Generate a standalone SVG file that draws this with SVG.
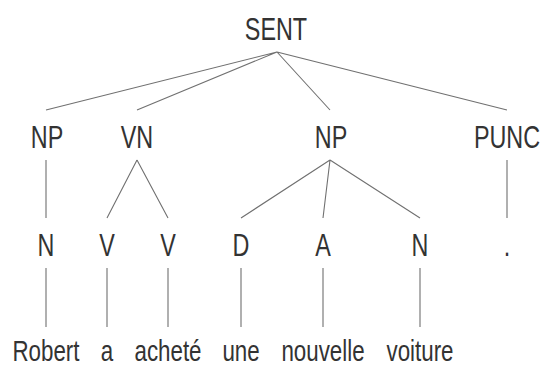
<svg xmlns="http://www.w3.org/2000/svg" width="540" height="367" viewBox="0 0 540 367">
<style>
.t{font-family:"Liberation Sans",Arial,sans-serif;font-size:32px;fill:#333;text-anchor:middle}
.w{font-family:"Liberation Sans",Arial,sans-serif;font-size:29px;fill:#333;text-anchor:middle}
.e{stroke:#707070;stroke-width:1.1;fill:none}
</style>
<rect width="540" height="367" fill="#fff"/>
<g id="connectors" class="e">
<path d="M277,52L46,110M277,52L137,110M277,52L330,110M277,52L507,110"/>
<path d="M46,160L46,218M137,160L107,218M137,160L168,218M330,160L241,218M330,160L323,218M330,160L420,218M507,160L507,218"/>
<path d="M46,268L46,327M107,268L107,327M168,268L168,327M241,268L241,327M323,268L323,327M420,268L420,327"/>
</g>
<g id="sent"><text class="t" transform="translate(276,40) scale(0.73,1)">SENT</text></g>
<g id="np1"><text class="t" transform="translate(47,148) scale(0.73,1)">NP</text></g>
<g id="vn"><text class="t" transform="translate(137,148) scale(0.73,1)">VN</text></g>
<g id="np2"><text class="t" transform="translate(331,148) scale(0.73,1)">NP</text></g>
<g id="punc"><text class="t" transform="translate(507,148) scale(0.73,1)">PUNC</text></g>
<g id="n1"><text class="t" transform="translate(46,256) scale(0.73,1)">N</text></g>
<g id="v1"><text class="t" transform="translate(107,256) scale(0.73,1)">V</text></g>
<g id="v2"><text class="t" transform="translate(168,256) scale(0.73,1)">V</text></g>
<g id="d"><text class="t" transform="translate(241,256) scale(0.73,1)">D</text></g>
<g id="a"><text class="t" transform="translate(323,256) scale(0.73,1)">A</text></g>
<g id="n2"><text class="t" transform="translate(420,256) scale(0.73,1)">N</text></g>
<g id="dot"><text class="t" transform="translate(507,256) scale(0.73,1)">.</text></g>
<g id="w1"><text class="w" transform="translate(46,360.5) scale(0.77,1)">Robert</text></g>
<g id="w2"><text class="w" transform="translate(107,360.5) scale(0.77,1)">a</text></g>
<g id="w3"><text class="w" transform="translate(168,360.5) scale(0.77,1)">acheté</text></g>
<g id="w4"><text class="w" transform="translate(241,360.5) scale(0.77,1)">une</text></g>
<g id="w5"><text class="w" transform="translate(323,360.5) scale(0.77,1)">nouvelle</text></g>
<g id="w6"><text class="w" transform="translate(420,360.5) scale(0.77,1)">voiture</text></g>
</svg>
